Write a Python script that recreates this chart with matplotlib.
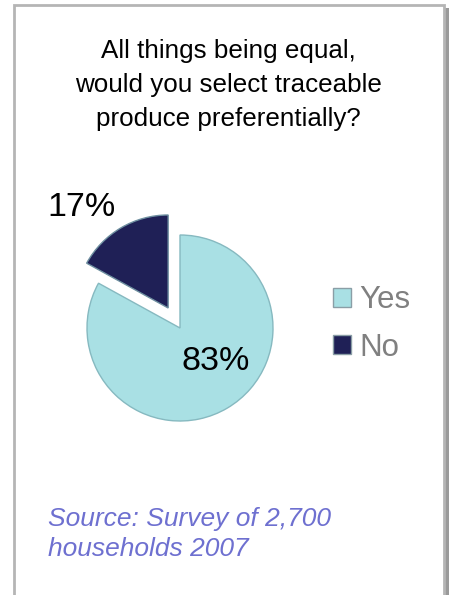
import numpy as np
import matplotlib.pyplot as plt
from matplotlib.patches import Rectangle, Patch

labels = ["Yes", "No"]
shares = [83, 17]
pct_labels = ["83%", "17%"]
colors = ["#a9e0e4", "#1f2056"]
edges = ["#86b9c0", "#6e8fa0"]

title = "All things being equal,\nwould you select traceable\nproduce preferentially?"
source = "Source: Survey of 2,700\nhouseholds 2007"

plt.rcParams['font.family'] = ['Liberation Sans', 'DejaVu Sans']

W, H = 453, 595
fig = plt.figure(figsize=(W / 100, H / 100), dpi=100)
fig.patch.set_facecolor("white")

# frame around the panel, with a soft shadow on the right
fig.patches.append(Rectangle((445 / W, -0.1), 4 / W, 1.1 - 8 / H, transform=fig.transFigure,
                             facecolor="#9a9a9a", edgecolor="none", zorder=0))
fig.patches.append(Rectangle((14 / W, -0.1), 430 / W, 1.1 - 5 / H, transform=fig.transFigure,
                             facecolor="white", edgecolor="#b5b5b5", linewidth=2, zorder=1))

ax = fig.add_axes([0, 0, 1, 1])
ax.set_zorder(2)
ax.patch.set_alpha(0)

cx, cy, r = 180, H - 328, 93
# explode is in data units here (1 unit = 1 px)
wedges, _ = ax.pie(shares, colors=colors, startangle=90, counterclock=False,
                   explode=[0, 0.25 * r], center=(cx, cy), radius=r,
                   wedgeprops=dict(linewidth=1))
for w, ec in zip(wedges, edges):
    w.set_edgecolor(ec)

ax.set_xlim(0, W)
ax.set_ylim(0, H)
ax.axis("off")

# percentage labels
ax.text(216, H - 361, pct_labels[0], fontsize=24.5, ha="center", va="center", color="black")
ax.text(81, H - 208, pct_labels[1], fontsize=24.5, ha="center", va="center", color="black")

ax.text(228, H - 85, title, fontsize=18.7, ha="center", va="center", color="black",
        linespacing=1.52)

ax.text(48, H - 534, source, fontsize=19, style="italic", ha="left", va="center",
        color="#6e70d0", linespacing=1.28)

handles = [Patch(facecolor=c, edgecolor="#8a9ea6", linewidth=1) for c in colors]
leg = ax.legend(handles, labels, loc="center left", bbox_to_anchor=(333 / W, 1 - 324 / H),
                bbox_transform=fig.transFigure, frameon=False, fontsize=22.5,
                handlelength=0.58, handleheight=0.58, handletextpad=0.25,
                labelspacing=0.55, borderpad=0, borderaxespad=0)
for t in leg.get_texts():
    t.set_color("#808080")

fig.savefig("out.png", dpi=100)
